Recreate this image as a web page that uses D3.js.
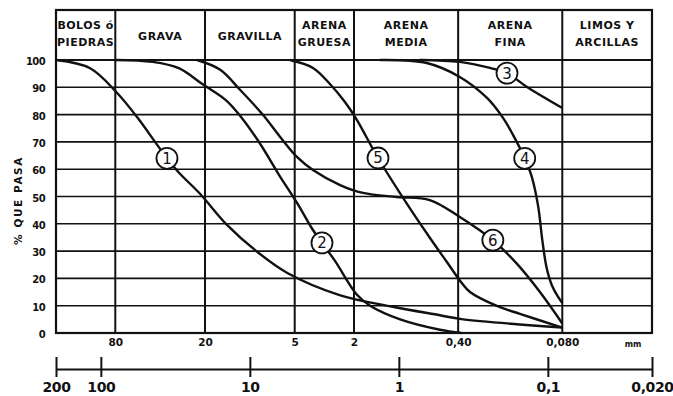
<!DOCTYPE html>
<html>
<head>
<meta charset="utf-8">
<script src="https://cdn.jsdelivr.net/npm/d3@7"></script>
<style>
  html, body { margin: 0; padding: 0; background: #fff; }
  svg { display: block; }
</style>
</head>
<body>
<svg id="chart" width="673" height="396"></svg>
<script>
// Sieve sizes (mm) bounding each soil fraction, from coarse to fine
const fractionBounds = [200, 80, 20, 5, 2, 0.40, 0.080, 0.020];
const innerBounds = [80, 20, 5, 2, 0.40, 0.080];
const innerBoundLabels = ["80", "20", "5", "2", "0,40", "0,080"];
const fractionNames = [
  ["BOLOS ó", "PIEDRAS"],
  ["GRAVA"],
  ["GRAVILLA"],
  ["ARENA", "GRUESA"],
  ["ARENA", "MEDIA"],
  ["ARENA", "FINA"],
  ["LIMOS Y", "ARCILLAS"]
];
const pctTicks = [0, 10, 20, 30, 40, 50, 60, 70, 80, 90, 100];
const scaleTicks = [200, 100, 10, 1, 0.1, 0.020];
const scaleTickLabels = ["200", "100", "10", "1", "0,1", "0,020"];

// Grading curves: [size mm, % passing]
const curve1 = [[200,100],[118,97],[78,88],[57,79],[42,69],[36,64],[30,58.8],[21.6,51],[14.3,39.7],[9,29.9],[5.6,22],[2.5,13.9],[1.1,9.6],[0.53,6.5],[0.38,5.1],[0.08,2]];
const curve2 = [[80,100],[45,99.3],[30,97],[20.6,91],[14.5,85.3],[11.6,79.5],[8.6,69.6],[6.3,57.5],[4.8,47.5],[3.8,38],[3.28,33],[2.69,26.5],[1.91,14],[1.56,10],[0.98,5],[0.53,1.2],[0.38,0]];
const curve3 = [[0.72,100],[0.39,99.3],[0.245,97.1],[0.188,95.2],[0.138,90.1],[0.08,82.4]];
const curve4 = [[1.34,100],[0.65,98.9],[0.39,93.8],[0.256,86.1],[0.2,78.8],[0.171,72.5],[0.143,64],[0.128,57.1],[0.116,46.2],[0.109,34.1],[0.102,24],[0.094,17.5],[0.086,13.5],[0.08,11]];
const curve5 = [[5.38,100],[3.77,97.1],[2.9,91.2],[2.3,84.6],[1.91,78],[1.38,64.1],[0.882,47.3],[0.618,34.8],[0.476,26],[0.383,18.7],[0.333,15],[0.22,9.9],[0.154,7],[0.08,2]];
const curve6 = [[22.6,100],[15.9,96.5],[11.6,89],[8.2,80],[6.3,72],[4.83,64.5],[3.77,59.7],[2.48,54.2],[1.74,51.3],[1.03,49.8],[0.62,48.7],[0.39,42.5],[0.234,34],[0.161,25.3],[0.113,15],[0.08,3.5]];
const curveNames = ["1", "2", "3", "4", "5", "6"];
// Point of each curve where its number is placed: [size mm, % passing]
const labelPoints = [[36,64],[3.28,33],[0.188,95.2],[0.143,64],[1.38,64.1],[0.234,34]];

const curves = [curve1, curve2, curve3, curve4, curve5, curve6];

const svg = d3.select("#chart");
const ink = "#111";
const font = "'DejaVu Sans', sans-serif";

const x = d3.scaleLog().domain([200, 0.020]).range([56, 652]);
const y = d3.scaleLinear().domain([0, 100]).range([333, 60]);
const headerTop = 10;

// Horizontal grid lines
svg.append("g").selectAll("line")
  .data(pctTicks.filter(d => d > 0 && d < 100))
  .join("line")
  .attr("x1", x(200)).attr("x2", x(0.020))
  .attr("y1", d => y(d)).attr("y2", d => y(d))
  .attr("stroke", ink).attr("stroke-width", 1.6);

// Vertical fraction boundaries, running through the header
svg.append("g").selectAll("line")
  .data(innerBounds)
  .join("line")
  .attr("x1", d => x(d)).attr("x2", d => x(d))
  .attr("y1", headerTop).attr("y2", y(0))
  .attr("stroke", ink).attr("stroke-width", 2);

// Outer frame and header divider
svg.append("rect")
  .attr("x", x(200)).attr("y", headerTop)
  .attr("width", x(0.020) - x(200)).attr("height", y(0) - headerTop)
  .attr("fill", "none").attr("stroke", ink).attr("stroke-width", 2.2);
svg.append("line")
  .attr("x1", x(200)).attr("x2", x(0.020))
  .attr("y1", y(100)).attr("y2", y(100))
  .attr("stroke", ink).attr("stroke-width", 2);

// Fraction names in the header
const header = svg.append("g")
  .attr("font-family", font)
  .attr("font-weight", "bold")
  .attr("font-size", 11)
  .attr("letter-spacing", 0.5)
  .attr("fill", ink)
  .attr("text-anchor", "middle");
fractionNames.forEach((lines, i) => {
  const cx = (x(fractionBounds[i]) + x(fractionBounds[i + 1])) / 2;
  const t = header.append("text");
  const startY = lines.length === 1 ? 39.5 : 29;
  lines.forEach((ln, j) => {
    t.append("tspan").attr("x", cx).attr("y", startY + j * 17).text(ln);
  });
});

// Y axis
const yAxis = svg.append("g")
  .attr("transform", `translate(${x(200)},0)`)
  .call(d3.axisLeft(y).tickValues(pctTicks).tickSize(0).tickPadding(11));
yAxis.select(".domain").remove();
yAxis.selectAll("text")
  .attr("font-family", font)
  .attr("font-weight", "bold").attr("font-size", 10)
  .attr("letter-spacing", -0.6)
  .attr("fill", ink).attr("dy", "0.45em");

svg.append("text")
  .attr("transform", `translate(22,${(y(0) + y(100)) / 2 + 4}) rotate(-90)`)
  .attr("text-anchor", "middle")
  .attr("font-family", font)
  .attr("font-weight", "bold").attr("font-size", 10.5)
  .attr("letter-spacing", 1.6)
  .attr("fill", ink)
  .text("% QUE PASA");

// Sizes at the fraction boundaries
const upperAxis = svg.append("g")
  .attr("transform", `translate(0,${y(0)})`)
  .call(d3.axisBottom(x).tickValues(innerBounds)
    .tickFormat((d, i) => innerBoundLabels[i]).tickSize(0).tickPadding(6));
upperAxis.select(".domain").remove();
upperAxis.selectAll("text")
  .attr("font-family", font)
  .attr("font-weight", "bold").attr("font-size", 10.5)
  .attr("fill", ink);
svg.append("text")
  .attr("x", 633).attr("y", 347)
  .attr("text-anchor", "middle")
  .attr("font-family", font)
  .attr("font-weight", "bold").attr("font-size", 8)
  .attr("fill", ink)
  .text("mm");

// Logarithmic size scale below the chart
const lowerAxis = svg.append("g")
  .attr("transform", "translate(0,369)")
  .call(d3.axisBottom(x).tickValues(scaleTicks)
    .tickFormat((d, i) => scaleTickLabels[i]).tickSizeOuter(0).tickSizeInner(8).tickPadding(5));
lowerAxis.select(".domain").attr("stroke", ink).attr("stroke-width", 1.8);
lowerAxis.selectAll(".tick line")
  .attr("y1", -12).attr("y2", 8)
  .attr("stroke", ink).attr("stroke-width", 2);
lowerAxis.selectAll("text")
  .attr("font-family", font)
  .attr("font-weight", "bold").attr("font-size", 14)
  .attr("letter-spacing", -0.4)
  .attr("fill", ink);

// Grading curves
const line = d3.line()
  .x(d => x(d[0]))
  .y(d => y(d[1]))
  .curve(d3.curveCatmullRom.alpha(0.5));
svg.append("g").selectAll("path")
  .data(curves)
  .join("path")
  .attr("d", line)
  .attr("fill", "none")
  .attr("stroke", ink)
  .attr("stroke-width", 2.4)
  .attr("stroke-linejoin", "round");

// Numbered circles on the curves
const marks = svg.append("g").selectAll("g")
  .data(labelPoints)
  .join("g")
  .attr("transform", d => `translate(${x(d[0])},${y(d[1])})`);
marks.append("circle")
  .attr("r", 10.5)
  .attr("fill", "#fff")
  .attr("stroke", ink)
  .attr("stroke-width", 1.8);
marks.append("text")
  .attr("text-anchor", "middle")
  .attr("dy", "0.36em")
  .attr("font-family", font)
  .attr("font-size", 15)
  .attr("fill", ink)
  .text((d, i) => curveNames[i]);
</script>
</body>
</html>
